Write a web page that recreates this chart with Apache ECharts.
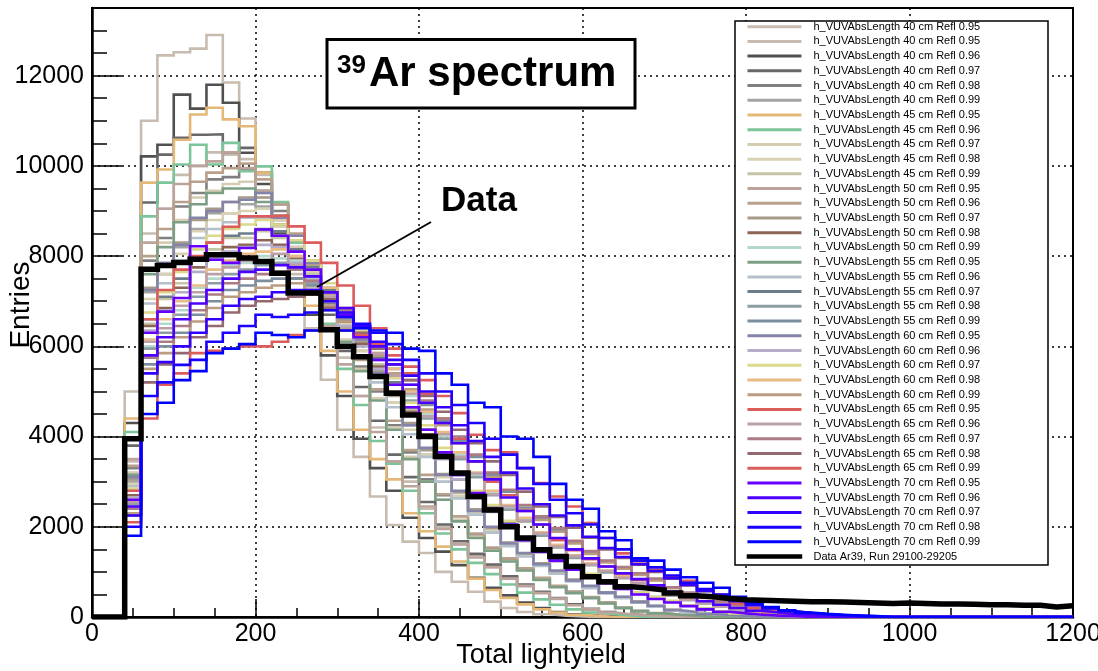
<!DOCTYPE html>
<html><head><meta charset="utf-8">
<script src="https://cdn.jsdelivr.net/npm/echarts@6/dist/echarts.min.js"></script>
<style>html,body{margin:0;padding:0;background:#fff}#c{width:1098px;height:671px}</style>
</head><body><div id="c"></div>
<script>
// ---- binning (lower edges start at xMin, width binWidth) ----
const xMin = 0, xMax = 1200, binWidth = 20;
const yMax = 13500;

// ---- simulated spectra (entries per 20-unit bin, starting at x=0) ----
const h40_095a = [0,0,5000,11000,12450,12520,12600,12900,11850,11050,9800,8800,7600,6400,5260,4150,3550,2670,2040,1670,1420,1000,780,560,340,200,110,60,30,10];
const h40_095b = [0,0,3450,8500,9050,9800,10000,10300,10250,10150,9400,8900,7950,7300,6400,5750,4900,4200,3420,3000,2400,2000,1600,1370,1100,880,680,550,400,280,160,110,60,30,20];
const h40_096 = [0,0,4300,10210,10470,11580,11270,11800,11400,10290,9600,8500,7500,6700,5800,4900,3950,3300,2800,2200,1750,1450,1150,870,650,480,320,200,110,60,30,15];
const h40_097 = [0,0,3800,9190,10250,10620,10690,10700,10300,10400,9850,9150,8300,7550,6700,5900,5100,4350,3600,3100,2550,2050,1680,1400,1160,900,720,560,420,280,180,110,60,35,20];
const h40_098 = [0,0,3300,7900,8400,9100,9400,9700,9750,9900,9450,9000,8300,7700,6950,6350,5550,5000,4250,3650,3050,2700,2150,1830,1500,1280,1050,860,670,560,420,320,200,130,80,50,30];
const h40_099 = [0,0,3000,7200,7600,8200,8600,8950,8950,9150,9100,8800,8200,7800,7050,6600,5900,5400,4750,4250,3600,3150,2680,2360,1900,1640,1360,1180,970,820,650,550,420,340,230,160,100,70,40,25];
const h45_095 = [0,0,4400,9630,9920,10580,11140,11290,11030,10880,9850,8900,7900,6900,5900,5000,4150,3500,3050,2300,1900,1560,1230,850,600,420,280,170,100,50,25];
const h45_096 = [0,0,4100,8880,9630,10030,10470,10030,10510,9880,9990,9200,8300,7400,6500,5500,4700,3900,3400,2800,2300,1850,1500,1200,950,720,540,390,270,170,100,60,30];
const h45_097 = [0,0,3200,7700,8300,8800,9300,9450,9600,9650,9300,8800,8200,7500,6850,6150,5500,4850,4200,3550,3000,2600,2150,1780,1480,1240,1040,830,670,540,420,300,200,130,80,50,30];
const h45_098 = [0,0,2950,7050,7600,8050,8550,8800,8950,9000,9050,8650,8150,7650,7050,6500,5900,5300,4750,4150,3600,3100,2680,2320,1910,1600,1370,1160,980,800,650,530,430,330,230,150,100,70,45,25];
const h45_099 = [0,0,2800,6500,7050,7400,7950,8150,8400,8400,8550,8400,8150,7600,7250,6600,6200,5600,5150,4600,4150,3600,3150,2700,2420,2050,1750,1460,1280,1080,940,760,650,520,430,340,260,180,120,80,50,30,20];
const h50_095 = [0,0,3500,8300,9050,9600,10000,10100,10300,9950,9450,8700,7950,7150,6450,5600,4900,4100,3450,2900,2450,1950,1620,1320,1110,850,690,530,410,260,170,100,60,35,20];
const h50_096 = [0,0,3350,8000,8600,9200,9650,9850,9950,10050,9700,9150,8500,7800,7150,6400,5700,5050,4350,3700,3150,2720,2230,1850,1540,1300,1080,870,690,560,440,320,210,130,85,50,30];
const h50_097 = [0,0,3050,7300,7800,8300,8800,9050,9200,9300,9300,8900,8450,7900,7250,6700,6100,5450,4900,4300,3700,3170,2760,2390,1970,1650,1410,1190,1010,830,670,550,440,340,240,160,105,70,45,25];
const h50_098 = [0,0,2700,6450,6850,7300,7750,8050,8200,8250,8350,8250,7950,7500,7050,6550,6050,5550,5000,4550,4050,3550,3050,2670,2360,2030,1700,1440,1250,1070,910,750,630,520,420,340,250,175,120,80,55,35,20];
const h50_099 = [0,0,2600,6000,6500,6800,7300,7500,7800,7850,8000,7950,7900,7500,7200,6700,6300,5800,5400,4900,4500,4000,3600,3150,2750,2400,2180,1830,1580,1330,1180,1000,890,730,620,480,400,300,240,170,125,85,55,35,20];
const h55_095 = [0,0,3150,7600,8200,8750,9150,9400,9500,9500,9200,8700,8100,7400,6800,6100,5450,4800,4150,3500,3000,2600,2120,1750,1470,1230,1030,820,660,530,420,300,200,130,80,50,30];
const h55_096 = [0,0,2900,6950,7400,7900,8400,8600,8750,8850,8850,8450,8000,7500,6900,6350,5800,5200,4650,4050,3550,3000,2630,2270,1870,1570,1340,1130,960,790,640,520,420,320,230,150,100,70,45,25];
const h55_097 = [0,0,2800,6600,7100,7500,7950,8300,8450,8500,8600,8550,8150,7750,7250,6750,6200,5750,5200,4650,4150,3650,3150,2750,2430,2100,1750,1480,1280,1100,940,780,650,530,440,350,260,180,120,80,55,35,20];
const h55_098 = [0,0,2500,5950,6300,6700,7100,7400,7600,7700,7800,7850,7700,7400,7000,6600,6150,5700,5300,4800,4400,3950,3500,3100,2700,2380,2120,1800,1540,1310,1150,990,860,730,600,470,380,300,235,170,120,85,55,35,20];
const h55_099 = [0,0,2400,5600,6000,6300,6700,7000,7250,7350,7450,7500,7500,7350,7000,6700,6300,5950,5500,5150,4700,4350,3900,3550,3150,2780,2420,2200,1920,1670,1420,1240,1080,960,820,660,520,440,330,260,190,135,95,65,45,30,20];
const h60_095 = [0,0,3100,7250,7850,8250,8850,9000,9200,9250,9400,8850,8450,7850,7300,6650,6150,5400,4950,4250,3750,3150,2800,2350,2000,1630,1420,1170,1030,810,690,540,450,330,250,150,110,65,45,25];
const h60_096 = [0,0,2650,6350,6800,7200,7650,7950,8100,8200,8250,8200,7850,7450,7000,6450,6000,5500,4950,4500,4000,3500,3050,2630,2330,2000,1680,1430,1230,1060,900,750,620,510,420,340,250,175,115,80,50,35,20];
const h60_097 = [0,0,2850,6750,7200,7650,8150,8450,8600,8700,8800,8700,8350,7900,7400,6850,6350,5850,5300,4750,4250,3750,3200,2800,2480,2130,1780,1510,1310,1120,960,790,660,550,440,360,260,185,125,80,55,35,20];
const h60_098 = [0,0,2600,6150,6600,7000,7350,7700,7900,8050,8100,8150,8000,7700,7300,6850,6400,5950,5500,5000,4550,4100,3650,3200,2800,2480,2200,1880,1600,1370,1190,1030,900,750,620,490,400,310,245,180,125,85,55,35,20];
const h60_099 = [0,0,2300,5500,5850,6200,6550,6850,7100,7200,7300,7350,7400,7150,6900,6550,6200,5800,5400,5050,4600,4250,3850,3450,3100,2700,2380,2150,1890,1630,1400,1210,1070,930,810,640,520,420,330,255,185,130,95,65,45,30,20];
const h65_095 = [0,0,2800,6600,7250,7700,8000,8300,8650,8880,8880,8900,8660,8300,7850,7350,6900,6400,5950,5400,4950,4400,3950,3450,3000,2700,2350,2050,1700,1480,1280,1120,960,820,660,540,420,340,260,190,140,95,60,40,20];
const h65_096 = [0,0,2550,6100,6400,6900,7200,7600,7750,7900,7900,8050,7800,7550,7100,6750,6250,5850,5350,4950,4450,4050,3550,3180,2720,2450,2140,1850,1560,1350,1160,1020,870,750,600,490,380,315,235,175,125,85,55,35,20];
const h65_097 = [0,0,2400,5750,6100,6450,6800,7150,7400,7500,7600,7650,7700,7450,7200,6800,6450,6050,5600,5250,4800,4400,4000,3600,3200,2820,2480,2230,1970,1690,1460,1250,1110,970,850,660,540,440,350,265,195,140,95,65,45,30,20];
const h65_098 = [0,0,2250,5200,5600,5850,6200,6450,6750,6900,7000,7050,7100,7150,6850,6650,6300,5950,5600,5250,4900,4550,4150,3850,3450,3150,2780,2450,2220,1980,1760,1500,1310,1160,1000,850,700,570,450,350,260,190,130,90,60,40,25,15];
const h65_099 = [0,0,2100,4400,5150,5400,5850,5900,5950,6000,6000,6100,6250,6350,6400,6350,6250,6050,5800,5550,5250,4900,4520,4040,3700,3650,3300,2970,2670,2450,2080,1750,1410,1230,1040,890,800,600,500,300,200,130,80,50,30];
const h70_095 = [0,0,2600,6300,6770,7070,8220,7920,7850,8180,8590,8450,8100,7700,7200,6700,6200,5700,5150,4650,4150,3650,3150,2750,2400,2050,1700,1450,1250,1050,900,750,620,500,400,320,240,170,115,80,50,30,20];
const h70_096 = [0,0,2450,5800,6200,6600,6950,7250,7500,7650,7700,7800,7750,7550,7200,6850,6450,6000,5600,5150,4750,4300,3850,3450,3050,2650,2350,2050,1750,1500,1300,1120,970,840,700,560,450,350,270,200,140,100,65,40,25];
const h70_097 = [0,0,2250,5400,5650,6000,6300,6600,6900,7050,7100,7200,7250,7250,7000,6750,6450,6100,5700,5350,5000,4650,4250,3900,3550,3200,2850,2500,2250,2030,1780,1530,1330,1170,1020,860,710,580,460,350,260,190,130,90,60,40,25,15];
const h70_098 = [0,0,2000,4900,5200,5590,5700,6100,6300,6450,6700,6650,6700,6750,6800,6650,6500,6300,6050,5700,5400,5000,4700,4300,3950,3600,3300,2950,2600,2300,2050,1750,1500,1250,1100,920,760,620,500,380,280,200,140,90,60,40,25];
const h70_099 = [0,0,1800,4500,4750,5250,5450,5850,5950,6050,6300,6250,6200,6350,6400,6350,6400,6350,6300,5950,5900,5400,5150,4750,4650,4000,3950,3550,2950,2600,2400,1900,1700,1300,1250,1050,880,760,650,450,320,220,150,100,70,50,30,20];

// ---- measured data ----
const dataAr39 = [0,0,3950,7710,7790,7860,7930,8030,8030,7960,7880,7620,7180,7180,6370,6000,5770,5330,4960,4480,4000,3560,3190,2670,2370,2000,1750,1490,1340,1120,890,780,670,640,600,530,470,450,410,380,370,360,350,340,340,330,320,310,300,310,300,290,290,280,270,270,260,260,220,250];

const simNames = [
 'h_VUVAbsLength 40 cm Refl 0.95','h_VUVAbsLength 40 cm Refl 0.95 ','h_VUVAbsLength 40 cm Refl 0.96','h_VUVAbsLength 40 cm Refl 0.97','h_VUVAbsLength 40 cm Refl 0.98','h_VUVAbsLength 40 cm Refl 0.99',
 'h_VUVAbsLength 45 cm Refl 0.95','h_VUVAbsLength 45 cm Refl 0.96','h_VUVAbsLength 45 cm Refl 0.97','h_VUVAbsLength 45 cm Refl 0.98','h_VUVAbsLength 45 cm Refl 0.99',
 'h_VUVAbsLength 50 cm Refl 0.95','h_VUVAbsLength 50 cm Refl 0.96','h_VUVAbsLength 50 cm Refl 0.97','h_VUVAbsLength 50 cm Refl 0.98','h_VUVAbsLength 50 cm Refl 0.99',
 'h_VUVAbsLength 55 cm Refl 0.95','h_VUVAbsLength 55 cm Refl 0.96','h_VUVAbsLength 55 cm Refl 0.97','h_VUVAbsLength 55 cm Refl 0.98','h_VUVAbsLength 55 cm Refl 0.99',
 'h_VUVAbsLength 60 cm Refl 0.95','h_VUVAbsLength 60 cm Refl 0.96','h_VUVAbsLength 60 cm Refl 0.97','h_VUVAbsLength 60 cm Refl 0.98','h_VUVAbsLength 60 cm Refl 0.99',
 'h_VUVAbsLength 65 cm Refl 0.95','h_VUVAbsLength 65 cm Refl 0.96','h_VUVAbsLength 65 cm Refl 0.97','h_VUVAbsLength 65 cm Refl 0.98','h_VUVAbsLength 65 cm Refl 0.99',
 'h_VUVAbsLength 70 cm Refl 0.95','h_VUVAbsLength 70 cm Refl 0.96','h_VUVAbsLength 70 cm Refl 0.97','h_VUVAbsLength 70 cm Refl 0.98','h_VUVAbsLength 70 cm Refl 0.99'
];
const simColors = [
 '#c8bcb0','#c8bcb0','#505050','#686868','#808080','#a4a4a4',
 '#e6b877','#7cc49a','#d5ccb2','#d9d2b2','#c4c4a6',
 '#bca49c','#b8a08c','#a89a8a','#8c6554','#b4d8cc',
 '#7c9e84','#b4c0cc','#6c7c88','#8c9ea4','#7c8e9e',
 '#8484a8','#b4acc8','#dcd88c','#e8bc84','#bc9c80',
 '#dc5c5c','#bca0a8','#ac7c84','#946870','#dc5c5c',
 '#6600ff','#4c00ff','#3300ff','#1a00ff','#0000ff'
];
const simValues = [
 h40_095a,h40_095b,h40_096,h40_097,h40_098,h40_099,
 h45_095,h45_096,h45_097,h45_098,h45_099,
 h50_095,h50_096,h50_097,h50_098,h50_099,
 h55_095,h55_096,h55_097,h55_098,h55_099,
 h60_095,h60_096,h60_097,h60_098,h60_099,
 h65_095,h65_096,h65_097,h65_098,h65_099,
 h70_095,h70_096,h70_097,h70_098,h70_099
];
const dataName = 'Data Ar39, Run 29100-29205';

// histogram -> step points at bin lower edges (+ closing point at xMax)
function toSteps(vals){
  const n = Math.round((xMax - xMin) / binWidth);
  const pts = [];
  for (let i = 0; i < n; i++) pts.push([xMin + i * binWidth, i < vals.length ? vals[i] : 0]);
  pts.push([xMax, n - 1 < vals.length ? vals[n - 1] : 0]);
  return pts;
}

const FONT = '"Liberation Sans", Arial, Helvetica, sans-serif';
const series = simValues.map((v, i) => ({
  type: 'line', name: simNames[i], data: toSteps(v), step: 'end', symbol: 'none',
  lineStyle: { color: simColors[i], width: 2.6, join: 'miter' }, itemStyle: { color: simColors[i] },
  emphasis: { disabled: true }, z: 2, clip: true
}));
series.push({
  type: 'line', name: dataName, data: toSteps(dataAr39), step: 'end', symbol: 'none',
  lineStyle: { color: '#000', width: 5.5, join: 'miter' }, itemStyle: { color: '#000' },
  emphasis: { disabled: true }, z: 3, clip: true
});

const legendData = simNames.map(n => ({ name: n }));
legendData.push({ name: dataName, itemStyle: { borderColor: '#000', borderWidth: 1.5 } });

const plainNum = v => String(v);

const chart = echarts.init(document.getElementById('c'), null, { renderer: 'canvas' });
chart.setOption({
  animation: false,
  backgroundColor: '#fff',
  grid: { left: 92, right: 25, top: 8, bottom: 54, show: true, borderColor: '#000', borderWidth: 2, backgroundColor: 'transparent', outerBoundsMode: 'none', containLabel: false },
  xAxis: {
    type: 'value', min: xMin, max: xMax, interval: 200,
    axisLine: { show: true, onZero: false, lineStyle: { color: '#000', width: 2.5 } },
    axisTick: { show: true, inside: true, length: 18, lineStyle: { color: '#000', width: 1.5 } },
    minorTick: { show: true, splitNumber: 4, length: 9, lineStyle: { color: '#000', width: 1.5 } },
    axisLabel: { fontSize: 25, fontFamily: FONT, color: '#000', margin: 5, formatter: plainNum, hideOverlap: false },
    splitLine: { show: true, lineStyle: { color: '#000', type: [2, 4], width: 1.5 } }
  },
  yAxis: [{
    type: 'value', min: 0, max: yMax, interval: 2000,
    axisLine: { show: true, lineStyle: { color: '#000', width: 2.5 } },
    axisTick: { show: true, inside: true, length: 30, lineStyle: { color: '#000', width: 1.5 } },
    axisLabel: { fontSize: 25, fontFamily: FONT, color: '#000', margin: 8, showMaxLabel: false, formatter: plainNum },
    splitLine: { show: true, lineStyle: { color: '#000', type: [2, 4], width: 1.5 } }
  }, {
    type: 'value', min: 0, max: yMax, interval: 500, position: 'left',
    axisLine: { show: false },
    axisTick: { show: true, inside: true, length: 15, lineStyle: { color: '#000', width: 1.5 } },
    axisLabel: { show: false }, splitLine: { show: false }
  }],
  legend: {
    orient: 'vertical', left: 746.7, top: 19.3, padding: 0, itemGap: 0,
    itemWidth: 54, itemHeight: 3, icon: 'rect', selectedMode: false, z: 20,
    itemStyle: { borderWidth: 0 },
    textStyle: { fontSize: 11, fontFamily: FONT, color: '#000', lineHeight: 14.72, padding: [0, 0, 0, 7] },
    data: legendData
  },
  graphic: [
    { type: 'rect', z: 15, shape: { x: 735, y: 21, width: 313, height: 544 }, style: { fill: '#fff', stroke: '#000', lineWidth: 1.5 } },
    { type: 'rect', z: 15, shape: { x: 327, y: 39.5, width: 308, height: 68.5 }, style: { fill: '#fff', stroke: '#000', lineWidth: 3 } },
    { type: 'text', z: 16, x: 337, y: 66, style: { text: '39', fontSize: 26, fontWeight: 'bold', fontFamily: FONT, fill: '#000', align: 'left', verticalAlign: 'middle', textAlign: 'left', textVerticalAlign: 'middle' } },
    { type: 'text', z: 16, x: 369, y: 74, style: { text: 'Ar spectrum', fontSize: 42, fontWeight: 'bold', fontFamily: FONT, fill: '#000', align: 'left', verticalAlign: 'middle', textAlign: 'left', textVerticalAlign: 'middle' } },
    { type: 'text', z: 16, x: 441, y: 201, style: { text: 'Data', fontSize: 35, fontWeight: 'bold', fontFamily: FONT, fill: '#000', align: 'left', verticalAlign: 'middle', textAlign: 'left', textVerticalAlign: 'middle' } },
    { type: 'line', z: 16, shape: { x1: 431, y1: 222, x2: 317, y2: 287 }, style: { stroke: '#000', lineWidth: 2 } },
    { type: 'text', z: 16, x: 21, y: 305, rotation: Math.PI / 2, style: { text: 'Entries', fontSize: 28, fontFamily: FONT, fill: '#000', align: 'center', verticalAlign: 'middle', textAlign: 'center', textVerticalAlign: 'middle' } },
    { type: 'text', z: 16, x: 541, y: 656, style: { text: 'Total lightyield', fontSize: 27, fontFamily: FONT, fill: '#000', align: 'center', verticalAlign: 'middle', textAlign: 'center', textVerticalAlign: 'middle' } }
  ],
  series: series
});
</script></body></html>
